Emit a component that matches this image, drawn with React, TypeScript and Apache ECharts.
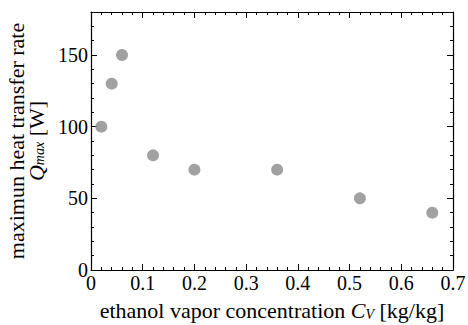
import React, { useEffect, useRef } from "react";
import * as echarts from "echarts";

const concentration = [0.02, 0.04, 0.06, 0.12, 0.2, 0.36, 0.52, 0.66];
const qmax = [100, 130, 150, 80, 70, 70, 50, 40];

const FONT = "Liberation Serif";

export default function App() {
  const ref = useRef<HTMLDivElement>(null);
  useEffect(() => {
    const chart = echarts.init(ref.current!, null, { renderer: "svg" });
    const tickCommon = {
      inside: true,
      length: 6,
      lineStyle: { color: "#000", width: 1 },
    };
    const minorCommon = {
      show: true,
      splitNumber: 5,
      length: 3,
      lineStyle: { color: "#000", width: 1 },
    };
    const lineCommon = { show: true, onZero: false, lineStyle: { color: "#000", width: 1.2 } };
    const tickRich = { t: { fontFamily: FONT, fontSize: 20, color: "#000" } };
    chart.setOption({
      animation: false,
      textStyle: { fontFamily: FONT },
      grid: { left: 91, right: 15, top: 12, bottom: 55, outerBoundsMode: "none", containLabel: false },
      xAxis: [
        {
          type: "value",
          min: 0,
          max: 0.7,
          interval: 0.1,
          position: "bottom",
          axisLine: lineCommon,
          axisTick: tickCommon,
          minorTick: minorCommon,
          splitLine: { show: false },
          axisLabel: {
            margin: 3,
            hideOverlap: false,
            rich: tickRich,
            formatter: (v: number) => "{t|" + String(Math.round(v * 10) / 10) + "}",
          },
          name: "{n|ethanol vapor concentration }{i|C}{s|V}{n| [kg/kg]}",
          nameLocation: "middle",
          nameGap: 29,
          nameTextStyle: {
            fontFamily: FONT,
            rich: {
              n: { fontFamily: FONT, fontSize: 22, color: "#000" },
              i: { fontFamily: FONT, fontSize: 22, fontStyle: "italic", color: "#000" },
              s: {
                fontFamily: FONT,
                fontSize: 14,
                fontStyle: "italic",
                color: "#000",
                verticalAlign: "bottom",
                padding: [8, 0, 0, 0],
              },
            },
          },
        },
        {
          type: "value",
          min: 0,
          max: 0.7,
          interval: 0.1,
          position: "top",
          axisLine: lineCommon,
          axisTick: tickCommon,
          minorTick: minorCommon,
          splitLine: { show: false },
          axisLabel: { show: false },
        },
      ],
      yAxis: [
        {
          type: "value",
          min: 0,
          max: 180,
          interval: 50,
          position: "left",
          axisLine: lineCommon,
          axisTick: tickCommon,
          minorTick: minorCommon,
          splitLine: { show: false },
          axisLabel: {
            margin: 3,
            showMaxLabel: false,
            rich: tickRich,
            formatter: (v: number) => "{t|" + v + "}",
          },
          name: "{n|maximun heat transfer rate}\n{i|Q}{s|max}{n| [W]}",
          nameLocation: "middle",
          nameRotate: 90,
          nameGap: 39,
          nameTextStyle: {
            fontFamily: FONT,
            lineHeight: 20,
            rich: {
              n: { fontFamily: FONT, fontSize: 22, color: "#000", lineHeight: 20 },
              i: { fontFamily: FONT, fontSize: 22, fontStyle: "italic", color: "#000", lineHeight: 20 },
              s: {
                fontFamily: FONT,
                fontSize: 14,
                fontStyle: "italic",
                color: "#000",
                verticalAlign: "bottom",
                lineHeight: 20,
                padding: [8, 0, 0, 0],
              },
            },
          },
        },
        {
          type: "value",
          min: 0,
          max: 180,
          interval: 50,
          position: "right",
          axisLine: lineCommon,
          axisTick: tickCommon,
          minorTick: minorCommon,
          splitLine: { show: false },
          axisLabel: { show: false },
        },
      ],
      series: [
        {
          type: "scatter",
          data: concentration.map((c, i) => [c, qmax[i]]),
          symbolSize: 12,
          itemStyle: { color: "#8a8a8a" },
        },
      ],
    });
    return () => chart.dispose();
  }, []);
  return (
    <div
      ref={ref}
      style={{ position: "fixed", left: 0, top: 0, width: 468, height: 325, background: "#fff" }}
    />
  );
}
